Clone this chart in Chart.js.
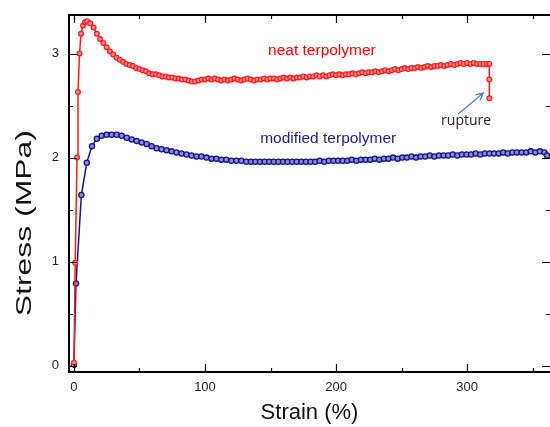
<!DOCTYPE html>
<html>
<head>
<meta charset="utf-8">
<script src="https://cdn.jsdelivr.net/npm/chart.js@4/dist/chart.umd.min.js"></script>
<style>
  html, body { margin: 0; padding: 0; background: #fff; }
  #wrap { width: 550px; height: 427px; }
</style>
</head>
<body>
<div id="wrap"><canvas id="Chart" width="550" height="427"></canvas></div>
<script>
// neat terpolymer (red)
var neatStrain = [0, 1, 2.4, 3.1, 4.3, 5.4, 7, 8.5, 10, 12.5, 15, 17.5, 20, 22.5, 25, 27.5, 30, 32.5, 35, 37.5,
  40, 42.5, 45, 47.5, 50, 52.5, 55, 57.5, 60, 62.5, 65, 67.5, 70, 72.5, 75, 77.5, 80, 82.5, 85, 87.5,
  90, 92.5, 95, 97.5, 100, 102.5, 105, 107.5, 110, 112.5, 115, 117.5, 120, 122.5, 125, 127.5, 130, 132.5, 135, 137.5,
  140, 142.5, 145, 147.5, 150, 152.5, 155, 157.5, 160, 162.5, 165, 167.5, 170, 172.5, 175, 177.5, 180, 182.5, 185, 187.5,
  190, 192.5, 195, 197.5, 200, 202.5, 205, 207.5, 210, 212.5, 215, 217.5, 220, 222.5, 225, 227.5, 230, 232.5, 235, 237.5,
  240, 242.5, 245, 247.5, 250, 252.5, 255, 257.5, 260, 262.5, 265, 267.5, 270, 272.5, 275, 277.5, 280, 282.5, 285, 287.5,
  290, 292.5, 295, 297.5, 300, 302.5, 305, 307.5, 310, 312.5, 315, 316.9, 316.9, 316.9];
var neatStress = [0.03, 0.99, 2.0, 2.63, 3.0, 3.19, 3.27, 3.3, 3.31, 3.29, 3.25, 3.19, 3.14, 3.1, 3.06, 3.02, 2.99, 2.96, 2.94, 2.92,
  2.9, 2.89, 2.88, 2.86, 2.85, 2.84, 2.83, 2.81, 2.8, 2.8, 2.79, 2.78, 2.78, 2.77, 2.77, 2.76, 2.76, 2.75, 2.75, 2.74,
  2.73, 2.73, 2.74, 2.75, 2.75, 2.76, 2.75, 2.76, 2.75, 2.74, 2.75, 2.74, 2.75, 2.76, 2.75, 2.74, 2.75, 2.76, 2.75, 2.74,
  2.75, 2.75, 2.76, 2.75, 2.76, 2.76, 2.75, 2.76, 2.77, 2.76, 2.77, 2.76, 2.77, 2.77, 2.78, 2.77, 2.78, 2.78, 2.79, 2.78,
  2.79, 2.78, 2.79, 2.8, 2.79, 2.8, 2.79, 2.8, 2.8, 2.81, 2.8, 2.81, 2.82, 2.81, 2.82, 2.82, 2.83, 2.82, 2.83, 2.84,
  2.83, 2.84, 2.85, 2.84, 2.85, 2.86, 2.85, 2.86, 2.86, 2.87, 2.86, 2.87, 2.88, 2.87, 2.88, 2.88, 2.89, 2.88, 2.89, 2.9,
  2.89, 2.9, 2.91, 2.9, 2.91, 2.9, 2.91, 2.9, 2.9, 2.9, 2.9, 2.9, 2.75, 2.57];

// modified terpolymer (navy)
var modStrain = [0, 1.6, 5.7, 9.8, 13.8, 17.5, 21.2, 25, 28.8, 32.6, 36.5, 40.3, 44.1, 47.9, 51.7, 55.5, 59.3, 63.1, 66.9, 70.7,
  74.5, 78.3, 82.1, 85.9, 89.7, 93.5, 97.3, 101.1, 104.9, 108.7, 112.5, 116.3, 120.1, 123.9, 127.7, 131.5,
  135, 138.5, 142, 145.5, 149, 152.5, 156, 159.5, 163, 166.5, 170, 173.5, 177, 180.5, 184, 187.5, 191, 194.5, 198, 201.5,
  205, 208.5, 212, 215.5, 219, 222.5, 226, 229.5, 233, 236.5, 240, 243.5, 247, 250.5, 254, 257.5, 261, 264.5, 268, 271.5,
  275, 278.5, 282, 285.5, 289, 292.5, 296, 299.5, 303, 306.5, 310, 313.5, 317, 320.5, 324, 327.5, 331, 334.5, 338, 341.5,
  345, 348.5, 352, 355.5, 359, 361];
var modStress = [0.01, 0.79, 1.64, 1.95, 2.11, 2.18, 2.21, 2.22, 2.22, 2.22, 2.21, 2.19, 2.175, 2.16, 2.145, 2.13, 2.11, 2.09, 2.08, 2.07,
  2.06, 2.05, 2.04, 2.03, 2.02, 2.01, 2.01, 2.0, 1.99, 1.99, 1.98, 1.98, 1.97, 1.97, 1.97, 1.96,
  1.96, 1.96, 1.96, 1.96, 1.96, 1.96, 1.96, 1.96, 1.96, 1.96, 1.96, 1.96, 1.96, 1.96, 1.96, 1.97, 1.96, 1.97, 1.97, 1.97,
  1.97, 1.97, 1.98, 1.97, 1.98, 1.98, 1.98, 1.99, 1.98, 1.99, 1.99, 2.0, 1.99, 2.0, 2.0, 2.01, 2.0, 2.01, 2.01, 2.02,
  2.01, 2.02, 2.02, 2.02, 2.03, 2.02, 2.03, 2.03, 2.03, 2.04, 2.03, 2.04, 2.04, 2.04, 2.04, 2.05, 2.04, 2.05, 2.05, 2.05,
  2.05, 2.06, 2.05, 2.06, 2.05, 2.02];

var xTicks = [0, 100, 200, 300];
var yTicks = [0, 1, 2, 3];
var xMinor = [50, 150, 250, 350];
var yMinor = [0.5, 1.5, 2.5];

function pairs(xs, ys) {
  var out = [];
  for (var i = 0; i < xs.length; i++) out.push({x: xs[i], y: ys[i]});
  return out;
}

// frame, inward ticks, y title and the text notes
var decor = {
  id: 'decor',
  afterDraw: function(chart) {
    var c = chart.ctx, a = chart.chartArea;
    var sx = chart.scales.x, sy = chart.scales.y;
    c.save();
    c.strokeStyle = '#000';
    c.lineWidth = 2;
    c.beginPath();
    c.moveTo(a.right + 2, a.top); c.lineTo(a.left, a.top);
    c.lineTo(a.left, a.bottom); c.lineTo(a.right + 2, a.bottom);
    c.stroke();
    c.lineWidth = 1.2;
    c.beginPath();
    function tx(v, len) {
      var p = Math.round(sx.getPixelForValue(v)) + 0.5;
      c.moveTo(p, a.bottom); c.lineTo(p, a.bottom - len);
      c.moveTo(p, a.top); c.lineTo(p, a.top + len);
    }
    function ty(v, len) {
      var p = Math.round(sy.getPixelForValue(v)) + 0.5;
      c.moveTo(a.left, p); c.lineTo(a.left + len, p);
      c.moveTo(a.right, p); c.lineTo(a.right - len, p);
    }
    xTicks.forEach(function(v) { tx(v, 8); });
    xMinor.forEach(function(v) { tx(v, 4); });
    yTicks.forEach(function(v) { ty(v, 8); });
    yMinor.forEach(function(v) { ty(v, 4); });
    c.stroke();

    // y axis title, stretched along its length like the original
    c.save();
    c.translate(25, sy.getPixelForValue(1.37));
    c.rotate(-Math.PI / 2);
    c.scale(1.45, 1);
    c.font = '22px "Liberation Sans", Arial, sans-serif';
    c.fillStyle = '#111';
    c.textAlign = 'center';
    c.textBaseline = 'middle';
    c.fillText('Stress (MPa)', 0, 0);
    c.restore();

    c.textAlign = 'center';
    c.textBaseline = 'middle';
    c.font = '15.5px "Liberation Sans", Arial, sans-serif';
    c.fillStyle = '#ff0000';
    c.fillText('neat terpolymer', sx.getPixelForValue(189.2), sy.getPixelForValue(3.025));
    c.fillStyle = '#1c1c8e';
    c.fillText('modified terpolymer', sx.getPixelForValue(194), sy.getPixelForValue(2.18));
    c.font = '14px "Open Sans", sans-serif';
    c.fillStyle = '#222';
    c.fillText('rupture', sx.getPixelForValue(299.2), sy.getPixelForValue(2.35));

    // arrow
    var x0 = sx.getPixelForValue(293.2), y0 = sy.getPixelForValue(2.42);
    var x1 = sx.getPixelForValue(312.3), y1 = sy.getPixelForValue(2.62);
    var ang = Math.atan2(y1 - y0, x1 - x0);
    c.strokeStyle = '#4f81bd';
    c.lineWidth = 1.3;
    c.beginPath();
    c.moveTo(x0, y0); c.lineTo(x1, y1);
    c.moveTo(x1 - 8 * Math.cos(ang - 0.45), y1 - 8 * Math.sin(ang - 0.45));
    c.lineTo(x1, y1);
    c.lineTo(x1 - 8 * Math.cos(ang + 0.45), y1 - 8 * Math.sin(ang + 0.45));
    c.stroke();
    c.restore();
  }
};

var tickFont = {family: '"Liberation Sans", Arial, sans-serif', size: 13};
var titleFont = {family: '"Liberation Sans", Arial, sans-serif', size: 22};

function noPad(s) {
  s.paddingLeft = 0; s.paddingRight = 0; s.paddingTop = 0; s.paddingBottom = 0;
}

var ctx = document.getElementById('Chart');
var newChart = new Chart(ctx, {
  type: 'line',
  data: {
    datasets: [
      {
        label: 'neat terpolymer',
        data: pairs(neatStrain, neatStress),
        borderColor: '#ff1a1a',
        backgroundColor: '#ff8a8a',
        pointBorderColor: '#ff1a1a',
        pointBorderWidth: 1.2,
        pointRadius: 2.4,
        borderWidth: 1.5,
        tension: 0
      },
      {
        label: 'modified terpolymer',
        data: pairs(modStrain, modStress),
        borderColor: '#14148a',
        backgroundColor: '#8a8ad0',
        pointBorderColor: '#14148a',
        pointBorderWidth: 1.3,
        pointRadius: 2.6,
        borderWidth: 1.5,
        tension: 0
      }
    ]
  },
  options: {
    responsive: false,
    animation: false,
    events: [],
    layout: {autoPadding: false, padding: {top: 15, right: 0, left: 0, bottom: 0}},
    plugins: {legend: {display: false}, tooltip: {enabled: false}},
    scales: {
      x: {
        type: 'linear',
        min: -3.74,
        max: 363.2,
        afterFit: function(s) { s.height = 55; noPad(s); },
        afterBuildTicks: function(s) { s.ticks = xTicks.map(function(v) { return {value: v}; }); },
        grid: {display: false, drawTicks: false},
        border: {display: false},
        ticks: {padding: 8, font: tickFont, color: '#222', maxRotation: 0},
        title: {display: true, text: 'Strain (%)', font: titleFont, color: '#111', padding: {top: 0, bottom: 1}}
      },
      y: {
        type: 'linear',
        min: -0.06,
        max: 3.37,
        afterFit: function(s) { s.width = 69; noPad(s); },
        afterBuildTicks: function(s) { s.ticks = yTicks.map(function(v) { return {value: v}; }); },
        grid: {display: false, drawTicks: false},
        border: {display: false},
        ticks: {padding: 10, font: tickFont, color: '#222'}
      }
    }
  },
  plugins: [decor]
});
</script>
</body>
</html>
